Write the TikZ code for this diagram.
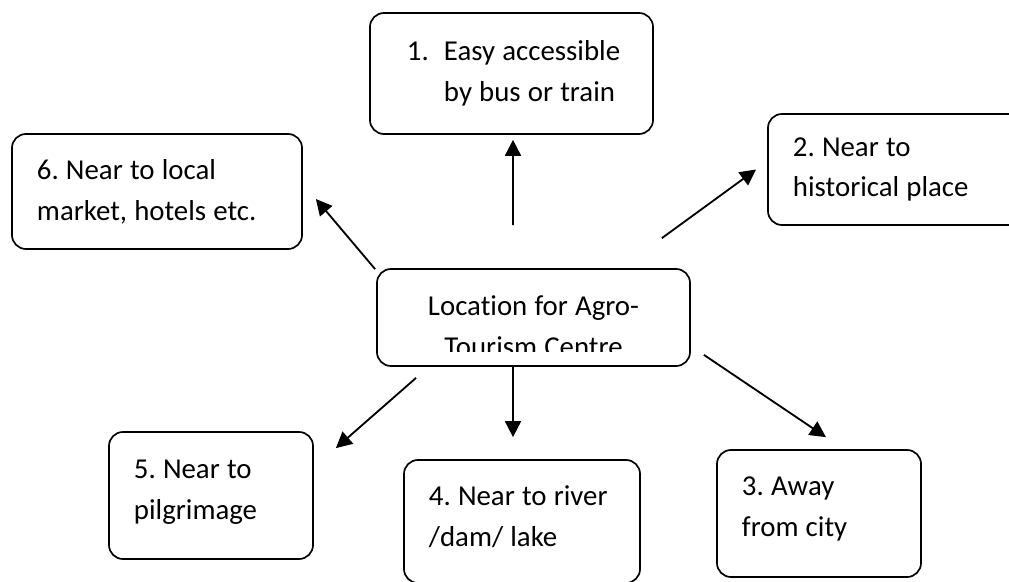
\documentclass[tikz,border=0pt]{standalone}
\usepackage{fontspec}
\setmainfont{Carlito}[Ligatures=NoCommon, WordSpace=1.1]
\usepackage{tikz}
\usetikzlibrary{arrows.meta, calc}

\begin{document}
\begin{tikzpicture}[x=0.025cm, y=-0.025cm,
  boxfont/.style={font=\fontsize{20.5pt}{29pt}\selectfont, execute at begin node={\frenchspacing\hyphenpenalty=10000 }},
  factor/.style={draw, line width=1.2pt, rounded corners=10pt, align=flush left, inner xsep=0.625cm, inner ysep=2pt, boxfont},
  arr/.style={-{Triangle[length=0.4cm, width=0.4cm]}, line width=1.3pt}]
  \clip[use as bounding box] (0, 0) rectangle (1009, 582);

  % Centre
  \node[draw, line width=1.2pt, rounded corners=10pt, minimum width=7.825cm, minimum height=2.425cm, path picture={
    \clip (path picture bounding box.north west) rectangle ([yshift=0.3625cm]path picture bounding box.south east);
    \node[align=center, boxfont] at ([yshift=-0.225cm]path picture bounding box.center) {Location for Agro-\\Tourism Centre};
  }] (centre) at (533.5, 317.5) {};

  % Factors
  \node[factor, inner xsep=0.7cm, text width=5.675cm, minimum height=3.025cm] (easy) at (511.5, 73.5) {
    \hspace*{0.225cm}\makebox[0.925cm][l]{1.}Easy accessible\\\hspace*{1.15cm}by bus or train};
  \node[factor, text width=5.3cm, minimum height=2.775cm] (hist) at (899, 169.5) {2. Near to\\historical place};
  \node[factor, text width=3.85cm, minimum height=3.175cm] (city) at (819, 513.5) {3. Away\\from city\par\vspace{0.225cm}\hrule height 0pt};
  \node[factor, text width=4.65cm, minimum height=3.075cm] (river) at (522, 521.5) {4. Near to river\\/dam/ lake\par\vspace{0.25cm}\hrule height 0pt};
  \node[factor, text width=3.85cm, minimum height=3.175cm] (pilg) at (211, 495.5) {5. Near to\\pilgrimage\par\vspace{0.15cm}\hrule height 0pt};
  \node[factor, text width=6cm, minimum height=2.875cm] (market) at (157, 191.5) {6. Near to local\\market, hotels etc.};

  % Arrows
  \draw[arr] ($(centre.north)+(-20.5, -43)$) -- ($(easy.south)+(1.5, 5)$);
  \draw[arr] ($(centre.north east)+(-29, -30)$) -- ($(hist.west)+(-11, 0)$);
  \draw[arr] ($(centre.south east)+(13, -12)$) -- ($(city.north)+(7, -12)$);
  \draw[arr] ($(centre.south)+(-20.5, 0)$) -- ($(river.north)+(-9, -22)$);
  \draw[arr] ($(centre.south west)+(40, 11)$) -- ($(pilg.north east)+(22, 17)$);
  \draw[arr] ($(centre.north west)+(-1, 1)$) -- ($(market.east)+(13, 7.5)$);
\end{tikzpicture}
\end{document}
